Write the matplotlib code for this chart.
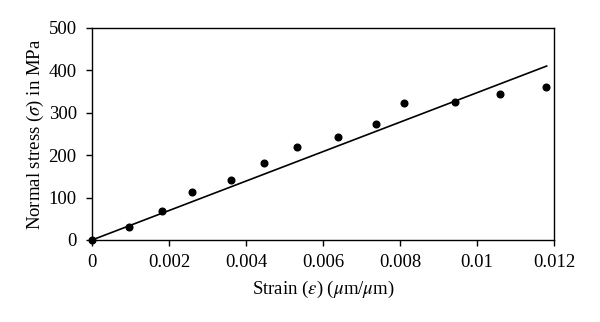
import matplotlib
matplotlib.use("Agg")
import matplotlib.pyplot as plt
import numpy as np

strain = [0.0, 0.00095, 0.00182, 0.0026, 0.00362, 0.00448, 0.00532,
          0.00638, 0.00737, 0.00811, 0.00944, 0.01059, 0.01179]
stress = [0, 31, 69, 113, 141, 181, 220, 244, 273, 323, 325, 344, 360]
fit_strain = [0.0, 0.01183]
fit_stress = [0.0, 411.0]

xticks = [0, 0.002, 0.004, 0.006, 0.008, 0.01, 0.012]
xticklabels = ["0", "0.002", "0.004", "0.006", "0.008", "0.01", "0.012"]
yticks = [0, 100, 200, 300, 400, 500]

plt.rcParams['font.family'] = ['Liberation Serif', 'DejaVu Serif']
plt.rcParams['mathtext.fontset'] = 'stix'

fig = plt.figure(figsize=(6.0, 3.22), dpi=100)
ax = fig.add_axes([92/600, 1-240/322, (554-92)/600, (240-28)/322])

ax.plot(fit_strain, fit_stress, color='black', lw=1.2, solid_capstyle='butt')
ax.plot(strain, stress, 'o', color='black', ms=4.8, clip_on=False, zorder=3)

ax.set_xlim(0, 0.012)
ax.set_ylim(0, 500)
ax.set_xticks(xticks)
ax.set_xticklabels(xticklabels)
ax.set_yticks(yticks)
ax.tick_params(direction='out', length=4, width=1, labelsize=13.5, color='black')
ax.tick_params(axis='x', pad=6)
ax.tick_params(axis='y', pad=7)
for s in ax.spines.values():
    s.set_linewidth(1.0)

ax.set_xlabel(r"Strain ($\varepsilon$) ($\mu$m/$\mu$m)", fontsize=13.5, labelpad=6)
ax.set_ylabel(r"Normal stress ($\sigma$) in MPa", fontsize=13.5, labelpad=2)

fig.savefig("out.png", dpi=100)
